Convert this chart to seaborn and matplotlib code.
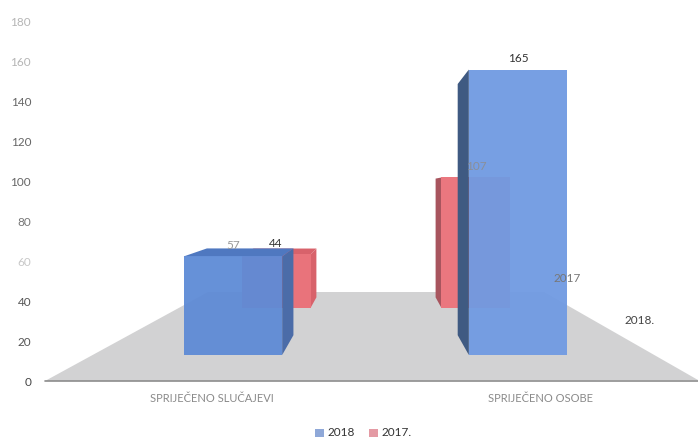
import seaborn as sns
import matplotlib.pyplot as plt
from matplotlib.patches import Polygon

categories = ['SPRIJEČENO SLUČAJEVI', 'SPRIJEČENO OSOBE']
values_2018 = [57, 165]
values_2017 = [44, 107]
y_ticks = [0, 20, 40, 60, 80, 100, 120, 140, 160, 180]
y_tick_colors = ['#444444', '#555555', '#555555', '#c8c8c8', '#777777',
                 '#666666', '#666666', '#666666', '#b5b5b5', '#b5b5b5']

W, H = 698, 438
VP = (376, 190)
FLOOR_LEFT = 45
FLOOR_Y = 381

sns.set_style('white')
plt.rcParams['font.family'] = ['Lato', 'DejaVu Sans']

fig = plt.figure(figsize=(W / 100, H / 100), dpi=100)


def px_axes(left, right, top, bottom, z):
    a = fig.add_axes([left / W, 1 - bottom / H, (right - left) / W, (bottom - top) / H])
    a.set_zorder(z)
    a.patch.set_visible(False)
    return a


# pixel canvas for the floor and loose text
canvas = px_axes(0, W, 0, H, 0)
canvas.set_xlim(0, W)
canvas.set_ylim(H, 0)
canvas.axis('off')
canvas.add_patch(Polygon([(FLOOR_LEFT, FLOOR_Y), (208, 292), (544, 292), (W, FLOOR_Y - 1)],
                         facecolor='#d2d2d3', edgecolor='none'))
canvas.plot([FLOOR_LEFT, W], [FLOOR_Y, FLOOR_Y], color='#8c8c8c', lw=1.2)
canvas.text(640, 320, '2018.', ha='center', va='center', fontsize=8.5, color='#444444')
canvas.text(212, 398, categories[0], ha='center', va='center', fontsize=8, color='#8a8a8a')
canvas.text(541, 398, categories[1], ha='center', va='center', fontsize=8, color='#8a8a8a')

# same pixel space, above the bars
overlay = px_axes(0, W, 0, H, 3)
overlay.set_xlim(0, W)
overlay.set_ylim(H, 0)
overlay.axis('off')
overlay.text(567, 279, '2017', ha='center', va='center', fontsize=8.5, color='#777777')

# y axis on the wall
axis = px_axes(FLOOR_LEFT, W, 21, FLOOR_Y, 0.5)
axis.set_ylim(0, 180)
axis.set_yticks(y_ticks)
axis.set_xticks([])
axis.tick_params(axis='y', length=0, labelsize=8.5, pad=10)
for lab, c in zip(axis.get_yticklabels(), y_tick_colors):
    lab.set_color(c)
sns.despine(ax=axis, left=True, bottom=True)


def bars3d(ax, vals, fronts, tops, sides, depth, alpha, label_colors):
    ax.set_xlim(-0.5, 1.5)
    ax.set_ylim(0, 180)
    sns.barplot(x=[0, 1], y=vals, ax=ax, color=fronts[0], saturation=1, width=0.345,
                alpha=alpha, native_scale=True, linewidth=0, edgecolor='none', zorder=3)
    ax.set_xlim(-0.5, 1.5)
    ax.set_ylim(0, 180)
    ax.axis('off')
    fig.canvas.draw()
    to_px = ax.transData + canvas.transData.inverted()
    for bar, front, top_c, side in zip(ax.patches, fronts, tops, sides):
        bar.set_facecolor(front)
        bar.set_alpha(alpha)
        x0, y1 = to_px.transform((bar.get_x(), bar.get_height()))
        x1, y0 = to_px.transform((bar.get_x() + bar.get_width(), 0))

        def back(p):
            return (p[0] + (VP[0] - p[0]) * depth, p[1] + (VP[1] - p[1]) * depth)

        edge = x1 if x1 < VP[0] else x0
        face = [(edge, y1), back((edge, y1)), back((edge, y0)), (edge, y0)]
        ax.add_patch(Polygon(face, transform=canvas.transData, clip_on=False,
                             facecolor=side, edgecolor='none', zorder=2))
        if y1 > VP[1]:
            top = [(x0, y1), back((x0, y1)), back((x1, y1)), (x1, y1)]
            ax.add_patch(Polygon(top, transform=canvas.transData, clip_on=False,
                                 facecolor=top_c, edgecolor='none', zorder=2))
    # labels go on the overlay so the front row does not cover them
    for bar, val, lc in zip(ax.patches, vals, label_colors):
        lx, ly = to_px.transform((bar.get_x() + bar.get_width() / 2, bar.get_height()))
        overlay.text(lx, ly - 11, str(val), ha='center', va='center', fontsize=8.5, color=lc)


# back row, 2017
ax_back = px_axes(176, 576, 308 - 180 * 1.22, 308, 1)
bars3d(ax_back, values_2017, ['#e9737b', '#ea777f'], ['#d8626b', '#d8626b'],
       ['#d8626b', '#a8555e'], 0.09, 1, ['#333333', '#8a8f99'])

# front row, 2018
ax_front = px_axes(90.5, 660.5, 355 - 180 * 1.73, 355, 2)
bars3d(ax_front, values_2018, ['#5e8bd6', '#709ae2'], ['#4f78c0', '#4f78c0'],
       ['#4b6ca8', '#3f5a82'], 0.12, 0.95, ['#999999', '#333333'])

# legend
canvas.add_patch(plt.Rectangle((315, 429), 9, 8, facecolor='#8fa8d8', edgecolor='none'))
canvas.add_patch(plt.Rectangle((369, 429), 9, 8, facecolor='#e49aa4', edgecolor='none'))
canvas.text(327, 433, '2018', va='center', fontsize=8.5, color='#333333')
canvas.text(381, 433, '2017.', va='center', fontsize=8.5, color='#333333')

fig.savefig('out.png', dpi=100)
